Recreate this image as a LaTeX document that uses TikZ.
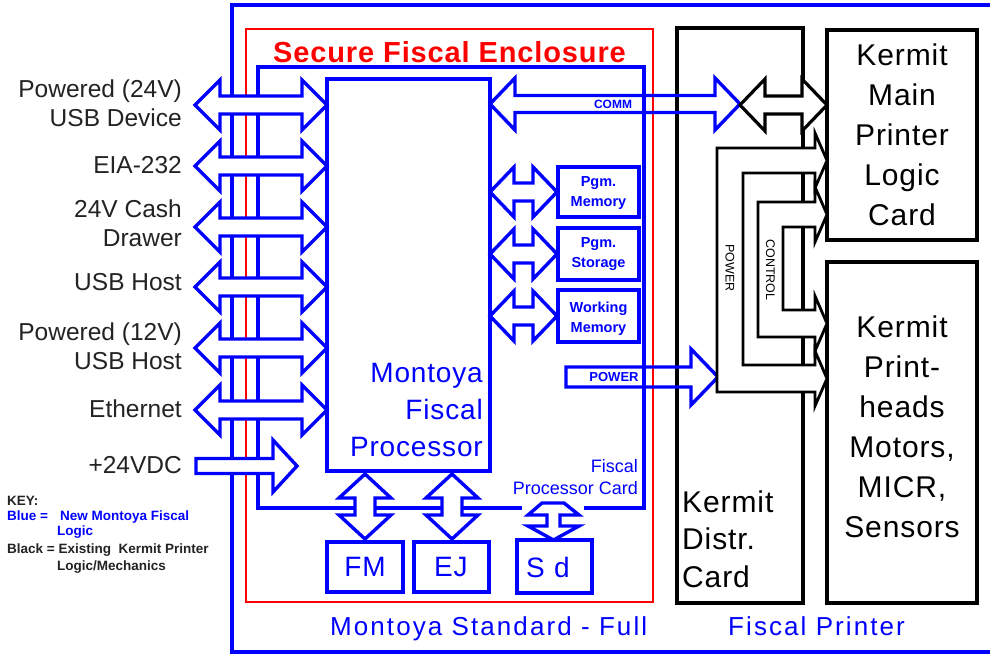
\documentclass[tikz,border=0pt]{standalone}
\usepackage{fontspec}
\setmainfont{Liberation Sans}
\newfontfamily\trackedA[LetterSpace=3]{Liberation Sans}
\newfontfamily\trackedB[LetterSpace=8]{Liberation Sans}
\definecolor{lineblue}{RGB}{0,0,255}
\definecolor{encred}{RGB}{255,0,0}
\definecolor{inkgray}{RGB}{35,35,35}

% horizontal double-headed block arrow: [style]{x left tip}{x right tip}{y}{head length}{head half}{shaft half}
\newcommand\HDoubleArrow[7][]{%
  \draw[#1] ({#2},{#4}) -- ({#2+#5},{#4-#6}) -- ({#2+#5},{#4-#7}) -- ({#3-#5},{#4-#7})
    -- ({#3-#5},{#4-#6}) -- ({#3},{#4}) -- ({#3-#5},{#4+#6}) -- ({#3-#5},{#4+#7})
    -- ({#2+#5},{#4+#7}) -- ({#2+#5},{#4+#6}) -- cycle;}
% vertical double-headed block arrow: [style]{x}{y top tip}{y bottom tip}{head length}{head half}{shaft half}
\newcommand\VDoubleArrow[7][]{%
  \draw[#1] ({#2},{#3}) -- ({#2+#6},{#3+#5}) -- ({#2+#7},{#3+#5}) -- ({#2+#7},{#4-#5})
    -- ({#2+#6},{#4-#5}) -- ({#2},{#4}) -- ({#2-#6},{#4-#5}) -- ({#2-#7},{#4-#5})
    -- ({#2-#7},{#3+#5}) -- ({#2-#6},{#3+#5}) -- cycle;}
% single-headed block arrow pointing right: [style]{x tail}{x tip}{y}{head length}{head half}{shaft half}
\newcommand\HSingleArrow[7][]{%
  \draw[#1] ({#2},{#4-#7}) -- ({#3-#5},{#4-#7}) -- ({#3-#5},{#4-#6}) -- ({#3},{#4})
    -- ({#3-#5},{#4+#6}) -- ({#3-#5},{#4+#7}) -- ({#2},{#4+#7}) -- cycle;}

\tikzset{
  bline/.style={draw=lineblue, line width=3.4pt},
  rline/.style={draw=encred, line width=2.8pt},
  bbox/.style={draw=lineblue, line width=3.4pt, fill=white, inner sep=0pt, outer sep=0pt},
  kbox/.style={draw=black, line width=3.4pt, fill=white, inner sep=0pt, outer sep=0pt},
  barrow/.style={draw=lineblue, line width=3.4pt, fill=white, line join=miter},
  bopen/.style={draw=lineblue, line width=3.4pt, line join=miter},
  karrow/.style={draw=black, line width=3.2pt, fill=white, line join=miter},
  kbus/.style={draw=black, line width=2.8pt, fill=white, line join=miter},
  lefttext/.style={inner sep=0pt, text=inkgray, align=right, font=\fontsize{24.5}{29}\selectfont},
  kermittext/.style={inner sep=0pt, text=black, font=\trackedA\fontsize{30}{40}\selectfont},
  memtext/.style={inner sep=0pt, text=lineblue, align=center, font=\bfseries\fontsize{14.5}{20}\selectfont},
  keytext/.style={inner sep=0pt, text=inkgray, font=\bfseries\fontsize{13.5}{13.5}\selectfont},
}

\begin{document}
\begin{tikzpicture}[x=1pt, y=-1pt]
  \useasboundingbox (0,0) rectangle (990,657);
  \fill[white] (0,0) rectangle (990,657);

  % enclosures
  \draw[bline] (990,5) -- (232,5) -- (232,652) -- (990,652);
  \draw[rline] (246,29) rectangle (653,602);
  \draw[bline] (522,508) -- (258,508) -- (258,67) -- (644,67) -- (644,508) -- (584,508);

  % printer cards
  \node[kbox, minimum width=126, minimum height=575] (distr) at (740,315.5) {};
  \node[kbox, minimum width=150, minimum height=210] (mainlogic) at (902,135) {};
  \node[kbox, minimum width=150, minimum height=341] (heads) at (902,432.5) {};

  % fiscal processor card parts
  \node[bbox, minimum width=163, minimum height=392] (proc) at (408.5,275) {};
  \node[bbox, minimum width=81, minimum height=50] (pgmmem) at (598.5,192) {};
  \node[bbox, minimum width=81, minimum height=52] (pgmsto) at (598.5,254) {};
  \node[bbox, minimum width=81, minimum height=52] (workmem) at (598.5,316) {};
  \node[bbox, minimum width=76, minimum height=50] (fm) at (365,567) {};
  \node[bbox, minimum width=75, minimum height=50] (ej) at (451.5,567) {};
  \node[bbox, minimum width=75, minimum height=53] (sd) at (554.5,566.5) {};

  % comm and power links crossing the enclosure walls
  \HDoubleArrow[bopen]{490}{740}{104}{25}{26}{8.5}
  \HSingleArrow[bopen]{566}{718}{377}{27}{28}{10}
  \HDoubleArrow[karrow]{740}{827}{105}{25}{26}{9}

  % external connectors
  \foreach \yy in {105,166,227,287,348,410}
    \HDoubleArrow[barrow]{195}{327}{\yy}{25}{25}{9};
  \HSingleArrow[barrow]{196}{297}{466}{24}{26}{7.5}

  % memory links
  \foreach \yy in {192,254,316}
    \HDoubleArrow[barrow]{490}{557}{\yy}{24}{25}{9};

  % FM, EJ and SD links
  \VDoubleArrow[barrow]{365}{474}{539}{24}{26}{10}
  \VDoubleArrow[barrow]{452}{474}{539}{24}{26}{10}
  \draw[barrow] (542,503) -- (564,503) -- (579,515) -- (560,515) -- (560,526) -- (579,526)
    -- (553.5,540) -- (528,526) -- (547,526) -- (547,515) -- (528,515) -- cycle;

  % power and control buses of the distribution card
  \draw[kbus] (815,133) -- (827,160.5) -- (815,188) -- (815,173) -- (743,173) -- (743,365)
    -- (815,365) -- (815,351) -- (827,378.5) -- (815,406) -- (815,392) -- (717,392)
    -- (717,148) -- (815,148) -- cycle;
  \draw[kbus] (815,187) -- (827,214.5) -- (815,242) -- (815,227) -- (783,227) -- (783,310)
    -- (815,310) -- (815,296) -- (827,323.5) -- (815,351) -- (815,337) -- (758,337)
    -- (758,202) -- (815,202) -- cycle;

  % labels
  \node[anchor=base west, inner sep=0pt, text=encred, font=\trackedA\bfseries\fontsize{29}{29}\selectfont] (title) at (273,62) {Secure Fiscal Enclosure};

  \node[lefttext, anchor=north east] (lab1) at (182,79.5) {Powered (24V)\\USB Device};
  \node[lefttext, anchor=base east] (lab2) at (182,173) {EIA-232};
  \node[lefttext, anchor=north east] (lab3) at (182,199.5) {24V Cash\\Drawer};
  \node[lefttext, anchor=base east] (lab4) at (182,290) {USB Host};
  \node[lefttext, anchor=north east] (lab5) at (182,322.5) {Powered (12V)\\USB Host};
  \node[lefttext, anchor=base east] (lab6) at (182,417) {Ethernet};
  \node[lefttext, anchor=base east] (lab7) at (182,473) {+24VDC};

  \node[keytext, anchor=base west] (key0) at (7,505) {KEY:};
  \node[keytext, anchor=base west, text=lineblue] (key1) at (7,520) {Blue =};
  \node[keytext, anchor=base west, text=lineblue] (key2) at (60,520) {New Montoya Fiscal};
  \node[keytext, anchor=base west, text=lineblue] (key3) at (57,535) {Logic};
  \node[keytext, anchor=base west] (key4) at (7,553) {Black = Existing\ \ Kermit Printer};
  \node[keytext, anchor=base west] (key5) at (57,570) {Logic/Mechanics};

  \node[anchor=north east, inner sep=0pt, align=right, text=lineblue, font=\trackedA\fontsize{28}{37}\selectfont] (proclab) at (483,363) {Montoya\\Fiscal\\Processor};
  \node[anchor=north east, inner sep=0pt, align=right, text=lineblue, font=\fontsize{18}{22}\selectfont] (cardlab) at (638,459) {Fiscal\\Processor Card};

  \node[memtext, anchor=north] (memlab) at (598.5,176.5) {Pgm.\\Memory};
  \node[memtext, anchor=north] (stolab) at (598.5,237.5) {Pgm.\\Storage};
  \node[memtext, anchor=north] (worklab) at (598.5,301.5) {Working\\Memory};

  \node[anchor=base, inner sep=0pt, text=lineblue, font=\trackedA\fontsize{28}{28}\selectfont] (fmlab) at (365,576) {FM};
  \node[anchor=base, inner sep=0pt, text=lineblue, font=\trackedA\fontsize{28}{28}\selectfont] (ejlab) at (451,576) {EJ};
  \node[anchor=base, inner sep=0pt, text=lineblue, font=\trackedA\fontsize{28}{28}\selectfont] (sdlab) at (548,577) {S\,\,d};

  \node[inner sep=0pt, text=lineblue, font=\bfseries\fontsize{12}{12}\selectfont] (commlab) at (613,104) {COMM};
  \node[inner sep=0pt, text=lineblue, font=\bfseries\fontsize{13}{13}\selectfont] (powlab) at (614,377) {POWER};
  \node[inner sep=0pt, rotate=-90, text=black, font=\fontsize{12.5}{12.5}\selectfont] (vpowlab) at (730,268) {POWER};
  \node[inner sep=0pt, rotate=-90, text=black, font=\fontsize{12.5}{12.5}\selectfont] (vctllab) at (770.5,270) {CONTROL};

  \node[kermittext, anchor=north, align=center] (mainlab) at (902,43.5) {Kermit\\Main\\Printer\\Logic\\Card};
  \node[kermittext, anchor=north, align=center] (headslab) at (902,315.5) {Kermit\\Print-\\heads\\Motors,\\MICR,\\Sensors};
  \node[kermittext, anchor=north west, align=left, font=\trackedA\fontsize{30}{37.5}\selectfont] (distrlab) at (682,490.5) {Kermit\\Distr.\\Card};

  \node[anchor=base west, inner sep=0pt, text=lineblue, font=\trackedB\fontsize{26}{26}\selectfont] (botlab1) at (330,635) {Montoya Standard - Full};
  \node[anchor=base west, inner sep=0pt, text=lineblue, font=\trackedB\fontsize{26}{26}\selectfont] (botlab2) at (728,635) {Fiscal Printer};
\end{tikzpicture}
\end{document}
